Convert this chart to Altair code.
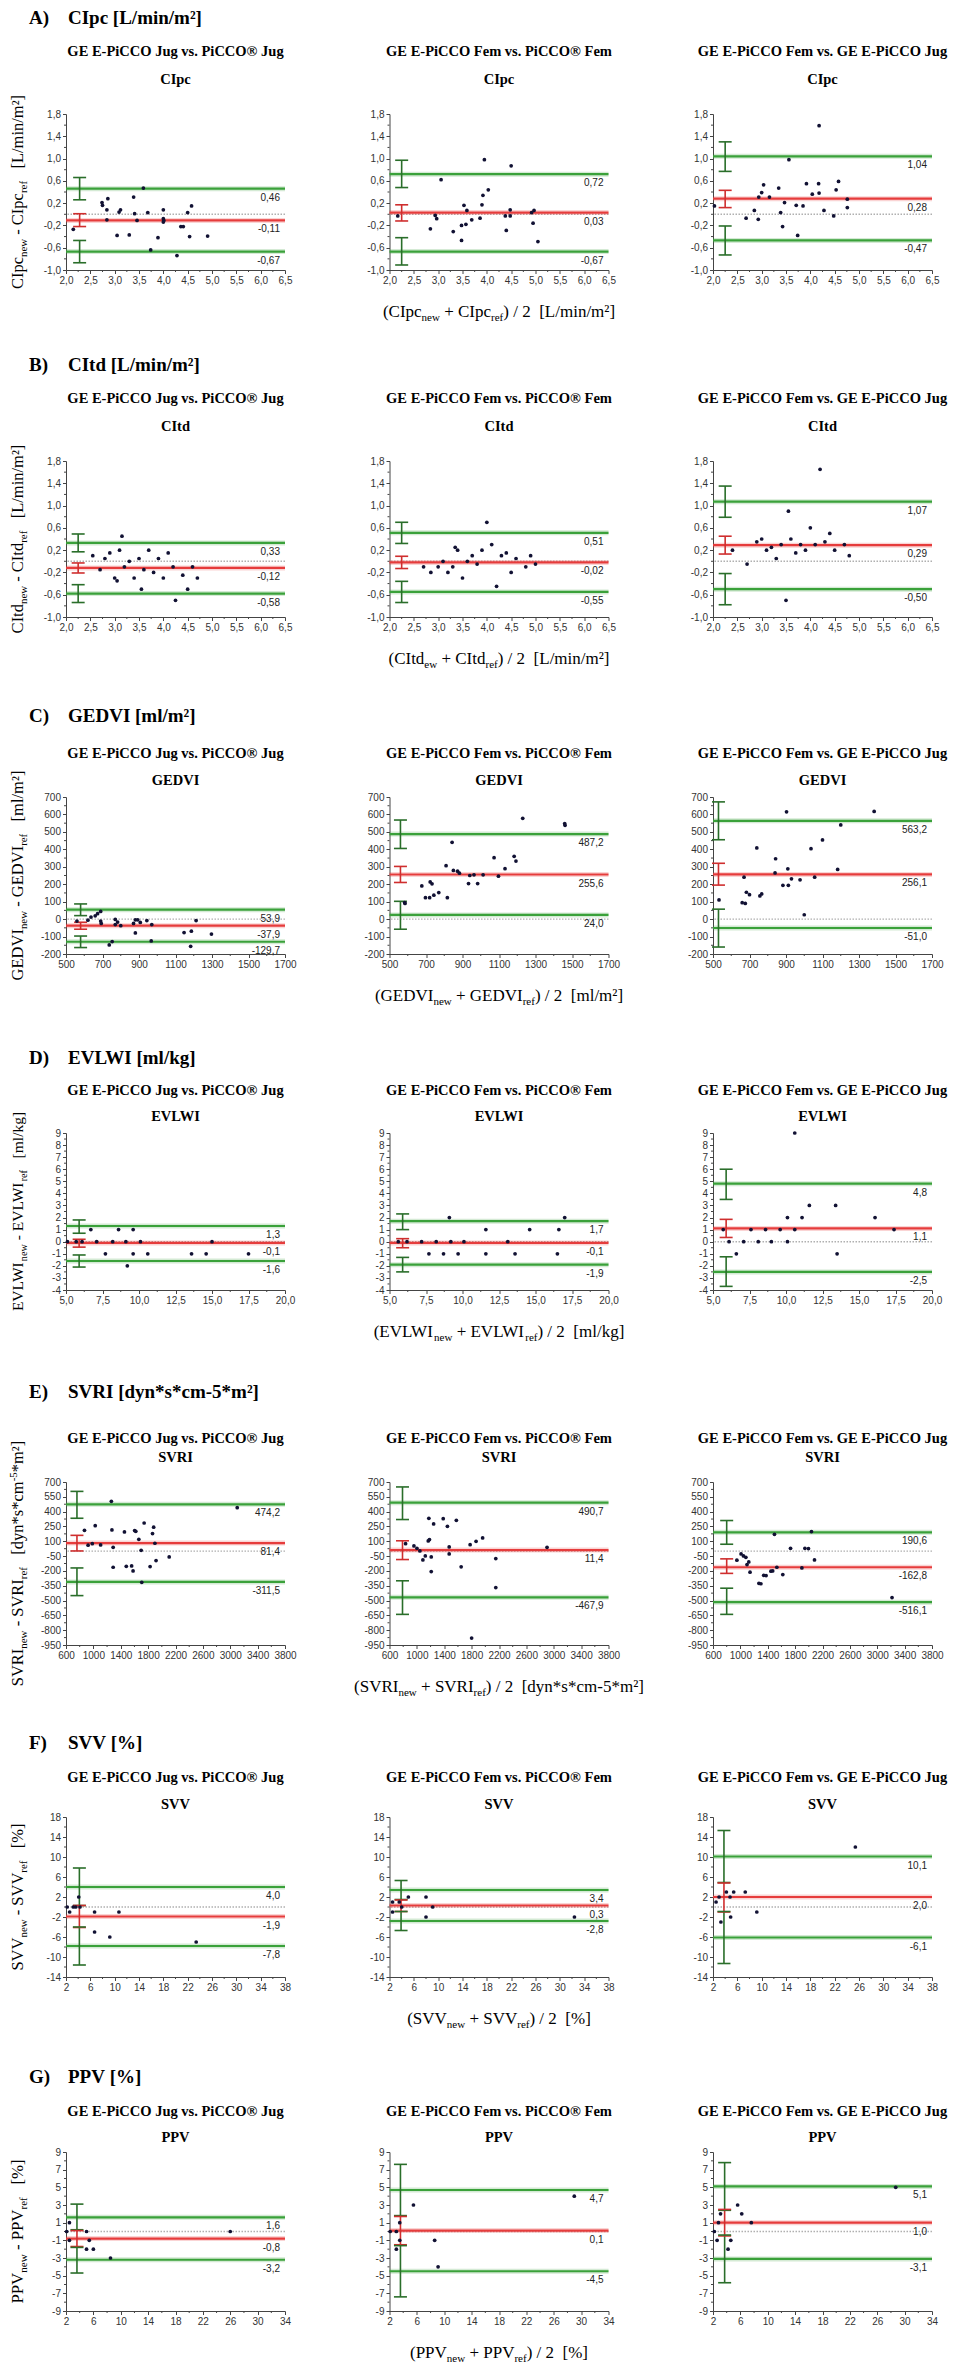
import altair as alt
import pandas as pd

SERIF = "Liberation Serif"
SANS = "Liberation Sans"
GREEN = "#3aa13a"
GREEN_CI = "#2a6e2a"
RED = "#e63c3c"
RED_CI = "#cf2e2e"
DOT = "#111133"

COMPARISONS = ["GE E-PiCCO Jug vs. PiCCO® Jug",
               "GE E-PiCCO Fem vs. PiCCO® Fem",
               "GE E-PiCCO Fem vs. GE E-PiCCO Jug"]

# ---------------- A) CIpc ----------------
CIPC_JUG_X = [2.15, 2.74, 2.75, 2.86, 2.84, 2.84, 3.05, 3.09, 3.12, 3.30, 3.39, 3.41, 3.46, 3.59, 3.68, 3.74, 3.89, 4.00, 4.00, 4.00, 4.01, 4.28, 4.36, 4.41, 4.50, 4.54, 4.58, 4.91]
CIPC_JUG_Y = [-0.27, 0.21, 0.16, 0.28, 0.08, -0.10, -0.38, 0.04, 0.08, -0.37, 0.31, 0.01, -0.11, 0.47, 0.03, -0.64, -0.42, 0.08, -0.08, -0.14, -0.11, -0.74, -0.22, -0.22, 0.03, -0.40, 0.15, -0.39]
CIPC_FEM_X = [2.17, 2.84, 2.94, 2.97, 3.06, 3.31, 3.48, 3.48, 3.53, 3.57, 3.59, 3.69, 3.86, 3.90, 3.92, 3.95, 4.03, 4.38, 4.40, 4.48, 4.48, 4.50, 4.92, 4.95, 4.97, 5.05]
CIPC_FEM_Y = [-0.03, -0.26, -0.02, -0.08, 0.62, -0.31, -0.47, -0.20, 0.16, -0.18, 0.07, -0.10, -0.07, 0.17, 0.34, 0.98, 0.44, -0.03, -0.29, -0.03, 0.08, 0.87, 0.03, -0.16, 0.07, -0.49]
CIPC_FJ_X = [2.03, 2.68, 2.85, 2.93, 2.94, 3.00, 3.04, 3.16, 3.35, 3.39, 3.43, 3.47, 3.56, 3.71, 3.74, 3.85, 3.92, 4.04, 4.17, 4.18, 4.18, 4.28, 4.48, 4.53, 4.58, 4.76, 4.76]
CIPC_FJ_Y = [0.15, -0.07, 0.07, -0.09, 0.31, 0.39, 0.53, 0.31, 0.47, 0.03, -0.22, 0.21, 0.98, 0.16, -0.38, 0.15, 0.55, 0.36, 0.55, 0.38, 1.59, 0.07, -0.03, 0.44, 0.59, 0.27, 0.12]
CIPC_LOA = [[0.46, -0.11, -0.67], [0.72, 0.03, -0.67], [1.04, 0.28, -0.47]]
CIPC_CI = [[[0.26, 0.66], [-0.22, 0.01], [-0.87, -0.47]],
           [[0.48, 0.97], [-0.12, 0.17], [-0.91, -0.42]],
           [[0.77, 1.30], [0.12, 0.43], [-0.73, -0.21]]]
CIPC_CIX = [2.28, 2.25, 2.25]

# ---------------- B) CItd ----------------
CITD_JUG_X = [2.55, 2.7, 2.8, 2.9, 3.0, 3.05, 3.1, 3.15, 3.2, 3.3, 3.4, 3.5, 3.55, 3.6, 3.7, 3.8, 3.9, 4.0, 4.1, 4.2, 4.25, 4.4, 4.5, 4.6, 4.7]
CITD_JUG_Y = [0.1, -0.15, 0.05, 0.15, -0.3, -0.35, 0.2, 0.45, -0.1, 0.0, -0.3, 0.05, -0.5, -0.15, 0.2, -0.2, 0.05, -0.3, 0.15, -0.1, -0.7, -0.25, -0.5, -0.1, -0.3]
CITD_FEM_X = [2.7, 2.85, 3.0, 3.1, 3.2, 3.3, 3.35, 3.4, 3.5, 3.6, 3.7, 3.8, 3.9, 4.0, 4.1, 4.2, 4.3, 4.4, 4.5, 4.6, 4.8, 4.9, 5.0]
CITD_FEM_Y = [-0.1, -0.2, -0.1, 0.0, -0.2, -0.1, 0.25, 0.2, -0.3, 0.0, 0.1, -0.05, 0.2, 0.7, 0.3, -0.45, 0.1, 0.15, -0.2, 0.05, -0.1, 0.1, -0.05]
CITD_FJ_X = [2.4, 2.7, 2.9, 3.0, 3.1, 3.2, 3.3, 3.4, 3.5, 3.55, 3.6, 3.7, 3.8, 3.9, 4.0, 4.1, 4.2, 4.3, 4.4, 4.5, 4.7, 4.8]
CITD_FJ_Y = [0.2, -0.05, 0.35, 0.4, 0.2, 0.25, 0.05, 0.3, -0.7, 0.9, 0.4, 0.15, 0.3, 0.2, 0.6, 0.3, 1.65, 0.35, 0.5, 0.2, 0.3, 0.1]
CITD_LOA = [[0.33, -0.12, -0.58], [0.51, -0.02, -0.55], [1.07, 0.29, -0.50]]
CITD_CI = [[[0.17, 0.49], [-0.21, -0.03], [-0.74, -0.42]],
           [[0.32, 0.70], [-0.13, 0.09], [-0.74, -0.36]],
           [[0.79, 1.35], [0.13, 0.45], [-0.78, -0.22]]]
CITD_CIX = [2.25, 2.25, 2.25]

# ---------------- C) GEDVI ----------------
GEDVI_JUG_X = [560, 620, 637, 660, 673, 690, 690, 693, 737, 753, 770, 770, 783, 800, 870, 880, 880, 893, 907, 943, 967, 970, 1147, 1187, 1183, 1213, 1297]
GEDVI_JUG_Y = [-11, -6, 12, 19, 31, 44, -11, -25, -148, -129, -2, -31, -17, -38, -25, -4, -79, -4, -19, -8, -125, -31, -77, -69, -156, -8, -86]
GEDVI_FEM_X = [583, 585, 677, 697, 720, 723, 733, 743, 770, 810, 817, 843, 850, 873, 883, 933, 940, 963, 983, 1013, 1073, 1097, 1133, 1183, 1193, 1230, 1460, 1462]
GEDVI_FEM_Y = [95, 90, 190, 123, 123, 213, 202, 137, 152, 306, 123, 440, 279, 275, 263, 204, 250, 254, 204, 254, 352, 246, 289, 360, 333, 578, 548, 538]
GEDVI_FJ_X = [533, 660, 670, 677, 683, 700, 740, 757, 767, 840, 843, 883, 903, 910, 913, 930, 977, 1000, 1037, 1057, 1100, 1183, 1200, 1383]
GEDVI_FJ_Y = [110, 94, 240, 90, 154, 140, 408, 133, 144, 265, 346, 194, 615, 288, 194, 231, 225, 25, 404, 240, 454, 285, 540, 617]
GEDVI_LOA = [[53.9, -37.9, -129.7], [487.2, 255.6, 24.0], [563.2, 256.1, -51.0]]
GEDVI_CI = [[[20, 87], [-58, -18], [-163, -97]],
            [[405, 568], [210, 302], [-58, 102]],
            [[455, 672], [195, 320], [-160, 57]]]
GEDVI_CIX = [580, 560, 530]

# ---------------- D) EVLWI ----------------
EVLWI_JUG_X = [6.7, 8.6, 9.6, 5.1, 5.7, 6.1, 7.1, 8.2, 9.1, 10.1, 15.0, 7.7, 9.6, 10.6, 13.6, 14.6, 17.5, 9.2]
EVLWI_JUG_Y = [1, 1, 1, 0, 0, 0, 0, 0, 0, 0, 0, -1, -1, -1, -1, -1, -1, -2]
EVLWI_FEM_X = [9.1, 17.0, 11.6, 14.6, 16.6, 5.6, 6.2, 7.2, 8.2, 9.2, 10.1, 13.1, 7.7, 8.7, 9.7, 11.6, 13.6, 16.5]
EVLWI_FEM_Y = [2, 2, 1, 1, 1, 0, 0, 0, 0, 0, 0, 0, -1, -1, -1, -1, -1, -1]
EVLWI_FJ_X = [10.6, 11.6, 13.4, 10.1, 11.1, 16.1, 5.7, 7.6, 8.6, 9.6, 10.6, 17.4, 6.1, 7.1, 8.1, 9.0, 10.1, 6.6, 13.5]
EVLWI_FJ_Y = [9, 3, 3, 2, 2, 2, 1, 1, 1, 1, 1, 1, 0, 0, 0, 0, 0, -1, -1]
EVLWI_LOA = [[1.3, -0.1, -1.6], [1.7, -0.1, -1.9], [4.8, 1.1, -2.5]]
EVLWI_CI = [[[0.7, 1.8], [-0.45, 0.2], [-2.1, -1.1]],
            [[1.0, 2.3], [-0.5, 0.25], [-2.5, -1.3]],
            [[3.5, 6.0], [0.35, 1.85], [-3.7, -1.25]]]
EVLWI_CIX = [5.9, 5.9, 5.9]

# ---------------- E) SVRI ----------------
SVRI_JUG_X = [870, 923, 984, 1027, 1106, 1271, 1263, 1289, 1289, 1454, 1481, 1559, 1580, 1603, 1620, 1664, 1698, 1707, 1742, 1829, 1864, 1881, 1899, 1916, 2108, 3102]
SVRI_JUG_Y = [211, 60, 76, 258, 63, 215, 505, 39, -163, 194, -153, -150, -200, 208, 201, 120, 9, -315, 285, -156, 178, 242, 80, -95, -58, 440]
SVRI_FEM_X = [835, 957, 1001, 1044, 1088, 1123, 1166, 1175, 1184, 1210, 1210, 1245, 1385, 1446, 1472, 1472, 1577, 1647, 1778, 1800, 1865, 1961, 2153, 2153, 2902]
SVRI_FEM_Y = [76, 53, 29, 2, -89, -48, 103, 333, 117, -58, -207, 275, 329, 252, 43, -28, 312, -159, 66, -880, 100, 134, -75, -368, 39]
SVRI_FJ_X = [949, 1010, 1045, 1080, 1097, 1123, 1141, 1271, 1300, 1341, 1376, 1446, 1472, 1498, 1533, 1620, 1733, 1899, 1943, 1995, 2039, 2083, 3216]
SVRI_FJ_Y = [-92, -28, -48, -62, -136, -109, -213, -325, -330, -244, -247, -203, -200, 171, -163, -237, 29, -170, 29, 26, 198, -89, -470]
SVRI_LOA = [[474.2, 81.4, -311.5], [490.7, 11.4, -467.9], [190.6, -162.8, -516.1]]
SVRI_CI = [[[333, 605], [2, 160], [-450, -170]],
           [[320, 650], [-85, 105], [-640, -300]],
           [[70, 310], [-225, -78], [-640, -375]]]
SVRI_CIX = [760, 790, 800]

# ---------------- F) SVV ----------------
SVV_JUG_X = [2.2, 2.6, 3.2, 3.6, 4.1, 4.3, 6.7, 6.7, 9.2, 10.7, 23.4]
SVV_JUG_Y = [0, -1, 0, 0, 2, 0, -1, -5, -6, -1, -7]
SVV_FEM_X = [2.5, 2.5, 3.6, 4.0, 5.1, 8.0, 8.0, 9.1, 32.4]
SVV_FEM_Y = [1, -1, 1, 0, 2, 2, -2, 0, -2]
SVV_FJ_X = [2.5, 3.0, 3.3, 4.2, 4.8, 4.9, 5.4, 7.3, 9.2, 25.4]
SVV_FJ_Y = [1, 2, -3, 3, 2, -2, 3, 3, -1, 12]
SVV_LOA = [[4.0, -1.9, -7.8], [3.4, 0.3, -2.8], [10.1, 2.0, -6.1]]
SVV_CI = [[[0.3, 7.8], [-4.1, 0.3], [-11.6, -4.0]],
          [[1.5, 5.3], [-0.9, 1.4], [-4.7, -0.9]],
          [[4.9, 15.3], [-1.0, 4.8], [-11.3, -0.9]]]
SVV_CIX = [4.2, 3.9, 3.8]

# ---------------- G) PPV ----------------
PPV_JUG_X = [2.1, 2.5, 2.5, 5.0, 5.0, 5.4, 6.0, 8.5, 26.0]
PPV_JUG_Y = [0, 1, -1, 0, -2, -1, -2, -3, 0]
PPV_FEM_X = [2.1, 3.0, 3.0, 3.5, 3.5, 5.5, 8.6, 9.1, 29.0]
PPV_FEM_Y = [0, 0, -2, 1, -1, 3, -1, -4, 4]
PPV_FJ_X = [2.2, 2.6, 2.8, 3.1, 4.2, 4.6, 5.6, 6.2, 7.6, 28.7]
PPV_FJ_Y = [0, -1, 1, 2, -2, -1, 3, 2, 1, 5]
PPV_LOA = [[1.6, -0.8, -3.2], [4.7, 0.1, -4.5], [5.1, 1.0, -3.1]]
PPV_CI = [[[0.2, 3.1], [-1.7, 0.1], [-4.7, -1.8]],
          [[1.8, 7.6], [-1.5, 1.7], [-7.4, -1.6]],
          [[2.4, 7.8], [-0.5, 2.5], [-5.8, -0.4]]]
PPV_CIX = [3.6, 3.6, 3.7]

# ---------------- axes (tick labels) ----------------
CI_XTICKS = [2.0, 2.5, 3.0, 3.5, 4.0, 4.5, 5.0, 5.5, 6.0, 6.5]
CI_YTICKS = [-1.0, -0.6, -0.2, 0.2, 0.6, 1.0, 1.4, 1.8]
GEDVI_XTICKS = [500, 700, 900, 1100, 1300, 1500, 1700]
GEDVI_YTICKS = [-200, -100, 0, 100, 200, 300, 400, 500, 600, 700]
EVLWI_XTICKS = [5.0, 7.5, 10.0, 12.5, 15.0, 17.5, 20.0]
EVLWI_YTICKS = [-4, -3, -2, -1, 0, 1, 2, 3, 4, 5, 6, 7, 8, 9]
SVRI_XTICKS = [600, 1000, 1400, 1800, 2200, 2600, 3000, 3400, 3800]
SVRI_YTICKS = [-950, -800, -650, -500, -350, -200, -50, 100, 250, 400, 550, 700]
SVV_XTICKS = [2, 6, 10, 14, 18, 22, 26, 30, 34, 38]
SVV_YTICKS = [-14, -10, -6, -2, 2, 6, 10, 14, 18]
PPV_XTICKS = [2, 6, 10, 14, 18, 22, 26, 30, 34]
PPV_YTICKS = [-9, -7, -5, -3, -1, 1, 3, 5, 7, 9]


def row(letter, name, param, pts, loa, ci, cix, ldec, xdom, xticks, xdec, ydom, yticks, ydec,
        unit_y, unit_x, sub_new, **lay):
    d = dict(letter=letter, name=name, param=param, pts=pts, loa=loa, ci=ci, cix=cix, ldec=ldec,
             xdom=xdom, xticks=xticks, xdec=xdec, ydom=ydom, yticks=yticks, ydec=ydec)
    d["ytitle"] = [(param, 0), ("new", 1), (" - " + param, 0), ("ref", 1)] + unit_y
    d["xtitle"] = [("(" + param, 0), (sub_new, 1), (" + " + param, 0), ("ref", 1),
                   (") / 2  " + unit_x, 0)]
    d.update(lay)
    return d


ROWS = [
    row("A)", "CIpc [L/min/m²]", "CIpc",
        [(CIPC_JUG_X, CIPC_JUG_Y), (CIPC_FEM_X, CIPC_FEM_Y), (CIPC_FJ_X, CIPC_FJ_Y)],
        CIPC_LOA, CIPC_CI, CIPC_CIX, 2, [2.0, 6.5], CI_XTICKS, 1, [-1.0, 1.8], CI_YTICKS, 1,
        [("   [L/min/m²]", 0)], "[L/min/m²]", "new",
        h=156, gap=191, hy=-90.5, ty=-58, sy=-30.5, yfs=16.5),
    row("B)", "CItd [L/min/m²]", "CItd",
        [(CITD_JUG_X, CITD_JUG_Y), (CITD_FEM_X, CITD_FEM_Y), (CITD_FJ_X, CITD_FJ_Y)],
        CITD_LOA, CITD_CI, CITD_CIX, 2, [2.0, 6.5], CI_XTICKS, 1, [-1.0, 1.8], CI_YTICKS, 1,
        [("   [L/min/m²]", 0)], "[L/min/m²]", "ew",
        h=156, gap=180, hy=-90, ty=-58, sy=-30.5, yfs=16.5),
    row("C)", "GEDVI [ml/m²]", "GEDVI",
        [(GEDVI_JUG_X, GEDVI_JUG_Y), (GEDVI_FEM_X, GEDVI_FEM_Y), (GEDVI_FJ_X, GEDVI_FJ_Y)],
        GEDVI_LOA, GEDVI_CI, GEDVI_CIX, 1, [500, 1700], GEDVI_XTICKS, 0, [-200, 700], GEDVI_YTICKS, 0,
        [("   [ml/m²]", 0)], "[ml/m²]", "new",
        h=157, gap=179, hy=-75, ty=-39.5, sy=-12.5, yfs=16.5),
    row("D)", "EVLWI [ml/kg]", "EVLWI",
        [(EVLWI_JUG_X, EVLWI_JUG_Y), (EVLWI_FEM_X, EVLWI_FEM_Y), (EVLWI_FJ_X, EVLWI_FJ_Y)],
        EVLWI_LOA, EVLWI_CI, EVLWI_CIX, 1, [5.0, 20.0], EVLWI_XTICKS, 1, [-4, 9], EVLWI_YTICKS, 0,
        [("   [ml/kg]", 0)], "[ml/kg]", "new",
        h=157, gap=192, hy=-69, ty=-38.5, sy=-12, yfs=15.5),
    row("E)", "SVRI [dyn*s*cm-5*m²]", "SVRI",
        [(SVRI_JUG_X, SVRI_JUG_Y), (SVRI_FEM_X, SVRI_FEM_Y), (SVRI_FJ_X, SVRI_FJ_Y)],
        SVRI_LOA, SVRI_CI, SVRI_CIX, 1, [600, 3800], SVRI_XTICKS, 0, [-950, 700], SVRI_YTICKS, 0,
        [("   [dyn*s*cm", 0), ("-5", 2), ("*m²]", 0)], "[dyn*s*cm-5*m²]", "new",
        h=163, gap=172, hy=-84, ty=-39.5, sy=-20.5, yfs=16.5),
    row("F)", "SVV [%]", "SVV",
        [(SVV_JUG_X, SVV_JUG_Y), (SVV_FEM_X, SVV_FEM_Y), (SVV_FJ_X, SVV_FJ_Y)],
        SVV_LOA, SVV_CI, SVV_CIX, 1, [2, 38], SVV_XTICKS, 0, [-14, 18], SVV_YTICKS, 0,
        [("   [%]", 0)], "[%]", "new",
        h=160, gap=175, hy=-68, ty=-35.5, sy=-8, yfs=16.5),
    row("G)", "PPV [%]", "PPV",
        [(PPV_JUG_X, PPV_JUG_Y), (PPV_FEM_X, PPV_FEM_Y), (PPV_FJ_X, PPV_FJ_Y)],
        PPV_LOA, PPV_CI, PPV_CIX, 1, [2, 34], PPV_XTICKS, 0, [-9, 9], PPV_YTICKS, 0,
        [("   [%]", 0)], "[%]", "new",
        h=159, gap=0, hy=-69, ty=-36, sy=-10, yfs=16.8),
]

# ---------------- layout helpers ----------------
PW = 219
COLSPACE = 104.5
YT_BASE = -43

TIMES = {' ': 250, '(': 333, ')': 333, '*': 500, '+': 564, '-': 333, '.': 250,
         '/': 278, '2': 500, '5': 500, '%': 833, 'C': 667, 'D': 722, 'E': 611, 'G': 722,
         'I': 333, 'L': 611, 'P': 556, 'R': 667, 'S': 556, 'V': 722, 'W': 944, '[': 333,
         ']': 333, 'c': 444, 'd': 500, 'e': 444, 'f': 333, 'g': 500, 'i': 278, 'k': 500,
         'l': 278, 'm': 778, 'n': 500, 'p': 500, 'r': 333, 's': 389, 't': 278, 'v': 500,
         'w': 722, 'y': 500, '²': 300}


def tw(s, size):
    return sum(TIMES.get(ch, 500) for ch in s) * size / 1000.0


ONE = pd.DataFrame({"k": [0]})


def label_expr(dec):
    if dec == 0:
        return "replace(format(datum.value, 'd'), '\u2212', '-')"
    return "replace(replace(format(datum.value, '.%df'), '.', ','), '\u2212', '-')" % dec


def fmt_num(v, dec):
    return ("%.*f" % (dec, v)).replace(".", ",")


def text_mark(t, fs, x, y, angle=0, weight="normal", align="left"):
    kw = dict(text=t.replace(" ", "\u00a0"), align=align, baseline="alphabetic",
              font=SERIF, fontSize=fs, fontWeight=weight, color="black")
    if angle:
        kw["angle"] = angle
    return alt.Chart(ONE).mark_text(**kw).encode(x=alt.value(x), y=alt.value(y))


def split_lead(t, fs):
    core = t.strip(" ")
    lead = len(t) - len(t.lstrip(" "))
    return core, tw(" " * lead, fs)


def ytitle_layers(R):
    segs, H, size = R["ytitle"], R["h"], R["yfs"]
    sub = round(size * 0.66, 1)
    total = sum(tw(t, sub if k else size) for t, k in segs)
    y0 = H / 2.0 + total / 2.0
    cur = 0.0
    out = []
    for t, k in segs:
        fs = sub if k else size
        core, lead = split_lead(t, fs)
        xo = YT_BASE + (3.5 if k == 1 else (-6 if k == 2 else 0))
        out.append(text_mark(core, fs, xo, y0 - cur - lead, angle=270))
        cur += tw(t, fs)
    return out


def xtitle_layers(R):
    segs, H = R["xtitle"], R["h"]
    size, sub = 17, 11
    total = sum(tw(t, sub if k else size) for t, k in segs)
    x0 = PW / 2.0 - total / 2.0
    cur = 0.0
    out = []
    for t, k in segs:
        fs = sub if k else size
        core, lead = split_lead(t, fs)
        out.append(text_mark(core, fs, x0 + cur + lead, H + 47 + (4 if k == 1 else 0)))
        cur += tw(t, fs)
    return out


def panel(R, col):
    H = R["h"]
    xmin, xmax = R["xdom"]
    xs = alt.Scale(domain=R["xdom"], nice=False, zero=False)
    ys = alt.Scale(domain=R["ydom"], nice=False, zero=False)
    xax = alt.Axis(values=R["xticks"], labelExpr=label_expr(R["xdec"]), title=None)
    yax = alt.Axis(values=R["yticks"], labelExpr=label_expr(R["ydec"]), title=None)

    def X(f):
        return alt.X(f, type="quantitative", scale=xs, axis=xax)

    def Y(f):
        return alt.Y(f, type="quantitative", scale=ys, axis=yax)

    px, py = R["pts"][col]
    loa = R["loa"][col]
    ci = R["ci"][col]
    cix = R["cix"][col]

    xt, yt = R["xticks"], R["yticks"]
    xminor = [(a + b) / 2.0 for a, b in zip(xt[:-1], xt[1:])]
    yminor = [(a + b) / 2.0 for a, b in zip(yt[:-1], yt[1:])]

    layers = [
        alt.Chart(pd.DataFrame({"m": yminor})).mark_rule(color="#444", strokeWidth=1)
        .encode(y=Y("m"), x=alt.value(-2), x2=alt.value(0)),
        alt.Chart(pd.DataFrame({"m": xminor})).mark_rule(color="#444", strokeWidth=1)
        .encode(x=X("m"), y=alt.value(H), y2=alt.value(H + 2)),
        alt.Chart(pd.DataFrame({"v": [0]})).mark_rule(color="#b0b0b0", strokeWidth=1.4,
                                                     strokeDash=[1.5, 1.5]).encode(y=Y("v")),
    ]
    ldf = pd.DataFrame({"v": loa, "c": [GREEN, RED, GREEN]})
    layers.append(alt.Chart(ldf).mark_rule(strokeWidth=5, opacity=0.22)
                  .encode(y=Y("v"), color=alt.Color("c:N", scale=None)))
    layers.append(alt.Chart(ldf).mark_rule(strokeWidth=2.2)
                  .encode(y=Y("v"), color=alt.Color("c:N", scale=None)))
    dx = 6.5 * (xmax - xmin) / PW
    cdf = pd.DataFrame({"x": [cix] * 3, "xl": [cix - dx] * 3, "xr": [cix + dx] * 3,
                        "lo": [c[0] for c in ci], "hi": [c[1] for c in ci],
                        "c": [GREEN_CI, RED_CI, GREEN_CI]})
    layers.append(alt.Chart(cdf).mark_rule(strokeWidth=1.6)
                  .encode(x=X("x"), y=Y("lo"), y2="hi", color=alt.Color("c:N", scale=None)))
    layers.append(alt.Chart(cdf).mark_rule(strokeWidth=1.6)
                  .encode(x=X("xl"), x2="xr", y=Y("lo"), color=alt.Color("c:N", scale=None)))
    layers.append(alt.Chart(cdf).mark_rule(strokeWidth=1.6)
                  .encode(x=X("xl"), x2="xr", y=Y("hi"), color=alt.Color("c:N", scale=None)))
    layers.append(alt.Chart(pd.DataFrame({"x": px, "y": py}))
                  .mark_circle(size=14, color=DOT, opacity=1).encode(x=X("x"), y=Y("y")))
    tdf = pd.DataFrame({"x": [xmax] * 3, "y": loa, "t": [fmt_num(v, R["ldec"]) for v in loa]})
    layers.append(alt.Chart(tdf).mark_text(align="right", baseline="middle", dx=-5, dy=9,
                                           font=SANS, fontSize=10, color="#222")
                  .encode(x=X("x"), y=Y("y"), text="t:N"))
    layers.append(text_mark(COMPARISONS[col], 14.5, PW / 2.0, R["ty"], weight="bold", align="center"))
    layers.append(text_mark(R["param"], 14.5, PW / 2.0, R["sy"], weight="bold", align="center"))
    if col == 0:
        layers.append(text_mark(R["letter"], 19, -37, R["hy"], weight="bold"))
        layers.append(text_mark(R["name"], 19, 2, R["hy"], weight="bold"))
        layers += ytitle_layers(R)
    if col == 1:
        layers += xtitle_layers(R)
    return alt.layer(*layers).properties(width=PW, height=H)


def spacer(h):
    return alt.Chart(ONE).mark_point(opacity=0).encode(
        x=alt.value(0), y=alt.value(0)).properties(width=PW, height=h)


cells = []
for i, R in enumerate(ROWS):
    cells += [panel(R, c) for c in range(3)]
    if i < len(ROWS) - 1:
        cells += [spacer(R["gap"]) for _ in range(3)]

chart = alt.concat(*cells, columns=3, spacing={"row": 0, "column": COLSPACE}, bounds="flush").properties(
    padding={"left": 0, "top": 0, "right": 4, "bottom": 4}
).configure_view(stroke=None).configure_axis(
    domainColor="#444", tickColor="#444", tickSize=3.5, labelFont=SANS, labelFontSize=10,
    labelColor="#333", labelPadding=2, grid=False, domainWidth=1, tickWidth=1,
    labelOverlap=False, labelFlush=False
)

chart.save("out.html", embed_options={"renderer": "svg", "actions": False})
